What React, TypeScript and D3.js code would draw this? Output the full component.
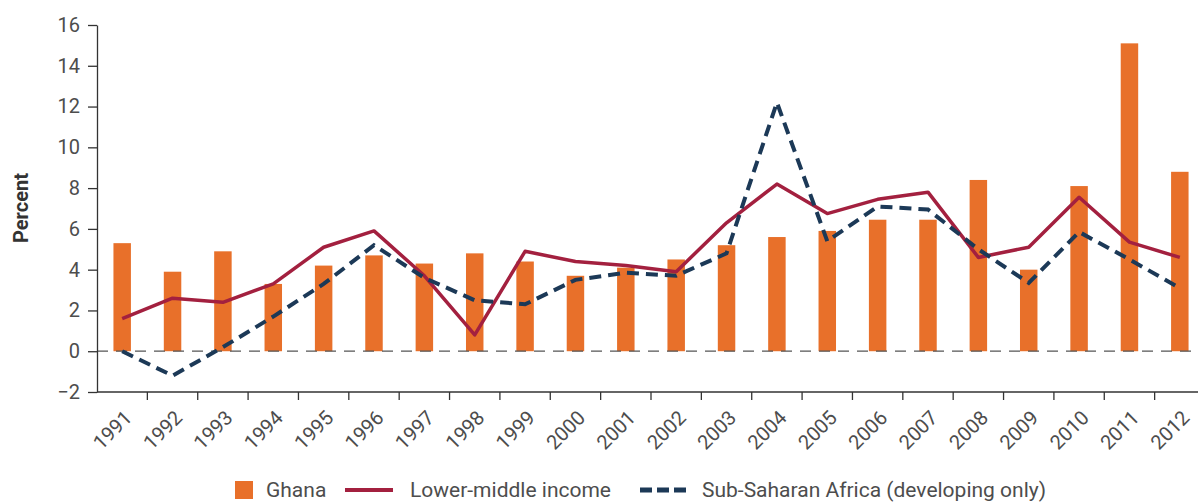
import React, { useEffect, useRef } from 'react';
import * as d3 from 'd3';

const years = ['1991', '1992', '1993', '1994', '1995', '1996', '1997', '1998', '1999', '2000', '2001',
    '2002', '2003', '2004', '2005', '2006', '2007', '2008', '2009', '2010', '2011', '2012'];

const ghana = [5.3, 3.9, 4.9, 3.3, 4.2, 4.7, 4.3, 4.8, 4.4, 3.7, 4.1,
    4.5, 5.2, 5.6, 5.9, 6.45, 6.45, 8.4, 4.0, 8.1, 15.1, 8.8];

const lowerMiddle = [1.6, 2.6, 2.4, 3.3, 5.1, 5.9, 3.7, 0.8, 4.9, 4.4, 4.2,
    3.9, 6.3, 8.2, 6.75, 7.45, 7.8, 4.6, 5.1, 7.55, 5.35, 4.6];

const subSaharan = [0.0, -1.2, 0.2, 1.7, 3.3, 5.2, 3.6, 2.5, 2.3, 3.5, 3.85,
    3.7, 4.8, 12.2, 5.4, 7.1, 6.95, 5.0, 3.35, 5.85, 4.5, 3.1];

const yTicks = [-2, 0, 2, 4, 6, 8, 10, 12, 14, 16];

const legendLabels = ['Ghana', 'Lower-middle income', 'Sub-Saharan Africa (developing only)'];

const App: React.FC = () => {
    const ref = useRef<SVGSVGElement>(null);

    useEffect(() => {
        const width = 1198;
        const height = 504;
        // the plot runs a little past the right edge of the picture
        const margin = { top: 25, right: -7, bottom: 112, left: 97 };
        const font = 'Roboto, "DejaVu Sans", sans-serif';
        const barColor = '#e8702a';
        const redColor = '#a3203f';
        const navyColor = '#1c3957';
        const textColor = '#4d4d4d';

        d3.select(ref.current).selectAll('*').remove();
        const svg = d3.select(ref.current).attr('width', width).attr('height', height);

        const x = d3
            .scaleBand()
            .domain(years)
            .range([margin.left, width - margin.right])
            .paddingInner(0.653)
            .paddingOuter(0.3265);

        const y = d3
            .scaleLinear()
            .domain([-2, 16])
            .range([height - margin.bottom, margin.top]);

        const cx = (d: string) => (x(d) ?? 0) + x.bandwidth() / 2;

        // bars
        svg.append('g')
            .selectAll('rect')
            .data(years)
            .enter()
            .append('rect')
            .attr('x', (d) => x(d) ?? 0)
            .attr('width', x.bandwidth())
            .attr('y', (d, i) => y(Math.max(0, ghana[i])))
            .attr('height', (d, i) => Math.abs(y(ghana[i]) - y(0)))
            .attr('fill', barColor);

        // zero line
        svg.append('line')
            .attr('x1', margin.left)
            .attr('x2', width)
            .attr('y1', y(0))
            .attr('y2', y(0))
            .attr('stroke', '#555')
            .attr('stroke-width', 1.3)
            .attr('stroke-dasharray', '11,8');

        // y axis
        const yAxis = svg
            .append('g')
            .attr('transform', `translate(${margin.left},0)`)
            .call(d3.axisLeft(y).tickValues(yTicks).tickSize(9).tickSizeOuter(0).tickFormat((d) => d3.format('d')(d as number).replace('-', '\u2212')));
        yAxis.select('.domain').attr('stroke', '#333').attr('stroke-width', 1.3);
        yAxis.selectAll('.tick line').attr('stroke', '#333').attr('stroke-width', 1.3);
        yAxis.selectAll('.tick text')
            .attr('x', -17)
            .attr('fill', textColor)
            .style('font-family', font)
            .style('font-size', '20px');

        // x axis
        const xAxisY = y(-2);
        const xAxis = svg.append('g');
        xAxis.append('line')
            .attr('x1', margin.left)
            .attr('x2', width)
            .attr('y1', xAxisY)
            .attr('y2', xAxisY)
            .attr('stroke', '#333')
            .attr('stroke-width', 1.3);
        const boundaries = years.map((d) => (x(d) ?? 0) - (x.step() - x.bandwidth()) / 2);
        xAxis.selectAll('line.tick')
            .data(boundaries.slice(1))
            .enter()
            .append('line')
            .attr('class', 'tick')
            .attr('x1', (d) => d)
            .attr('x2', (d) => d)
            .attr('y1', xAxisY)
            .attr('y2', xAxisY + 8)
            .attr('stroke', '#333')
            .attr('stroke-width', 1.3);
        xAxis.selectAll('text')
            .data(years)
            .enter()
            .append('text')
            .attr('transform', (d) => `translate(${cx(d) + 11},${xAxisY + 27}) rotate(-45)`)
            .attr('text-anchor', 'end')
            .attr('fill', textColor)
            .style('font-family', font)
            .style('font-size', '20px')
            .text((d) => d);

        // y label
        svg.append('text')
            .attr('transform', `translate(28,208) rotate(-90)`)
            .attr('text-anchor', 'middle')
            .attr('fill', '#333')
            .style('font-family', font)
            .style('font-size', '20px')
            .style('font-weight', 'bold')
            .text('Percent');

        // lines
        const line = d3
            .line<number>()
            .x((d, i) => cx(years[i]))
            .y((d) => y(d));

        svg.append('path')
            .datum(lowerMiddle)
            .attr('d', line)
            .attr('fill', 'none')
            .attr('stroke', redColor)
            .attr('stroke-width', 3.5)
            .attr('stroke-linejoin', 'round');

        svg.append('path')
            .datum(subSaharan)
            .attr('d', line)
            .attr('fill', 'none')
            .attr('stroke', navyColor)
            .attr('stroke-width', 4)
            .attr('stroke-dasharray', '12,7');

        // legend
        const legend = svg.append('g').attr('transform', `translate(0,490)`);
        legend.append('rect')
            .attr('x', 235).attr('y', -9).attr('width', 18).attr('height', 18)
            .attr('fill', barColor);
        legend.append('line')
            .attr('x1', 345).attr('x2', 393).attr('y1', 0).attr('y2', 0)
            .attr('stroke', redColor).attr('stroke-width', 4);
        legend.append('line')
            .attr('x1', 640).attr('x2', 686).attr('y1', 0).attr('y2', 0)
            .attr('stroke', navyColor).attr('stroke-width', 5)
            .attr('stroke-dasharray', '12,5');
        const legendX = [266, 410, 702];
        legend.selectAll('text')
            .data(legendLabels)
            .enter()
            .append('text')
            .attr('x', (d, i) => legendX[i])
            .attr('y', 0)
            .attr('dy', '0.35em')
            .attr('fill', textColor)
            .style('font-family', font)
            .style('font-size', '21px')
            .text((d) => d);
    }, []);

    return (
        <div style={{ position: 'absolute', left: 0, top: 0 }}>
            <svg ref={ref}></svg>
        </div>
    );
};

export default App;
